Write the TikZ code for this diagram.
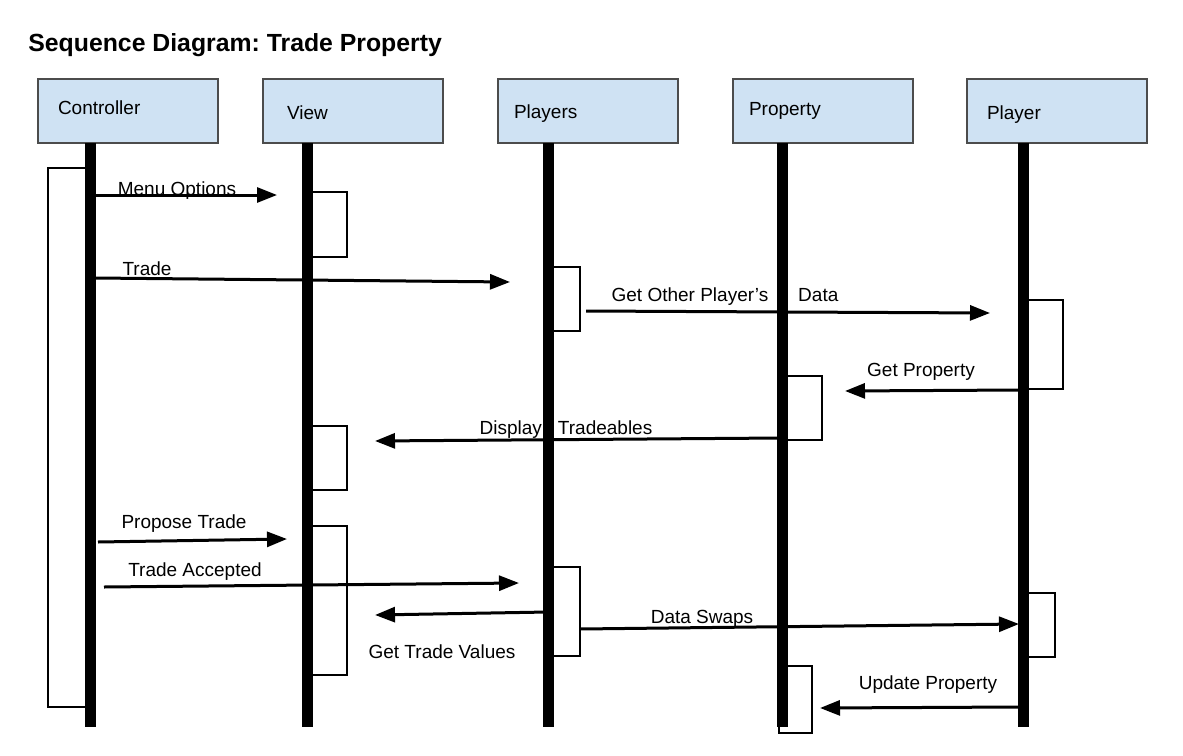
\documentclass[tikz,border=0pt]{standalone}
\usepackage{fontspec}
\setmainfont{Liberation Sans}
\frenchspacing
\usetikzlibrary{arrows.meta}
\definecolor{headblue}{HTML}{CFE2F3}
\tikzstyle{head}=[draw=black!70, fill=headblue, line width=0.6pt, minimum width=90pt, minimum height=32pt, inner xsep=10pt, text width=70pt, text height=7pt, text depth=2pt, align=left, font=\fontsize{9.5}{11}\selectfont]
\tikzstyle{life}=[line width=5.5pt]
\tikzstyle{act}=[line width=1.2pt]
\tikzstyle{msg}=[line width=1.5pt, -{Triangle[length=10pt,width=7.5pt]}]
\tikzstyle{lbl}=[font=\fontsize{9.5}{11}\selectfont, inner sep=0pt]

\begin{document}
\begin{tikzpicture}[x=0.5pt, y=-0.5pt]
  \useasboundingbox (0,0) rectangle (1183,755);

  %% Title
  \draw (28,45) node[anchor=west, inner sep=0pt, font=\fontsize{12.4}{14}\selectfont\bfseries] (title) {Sequence Diagram: Trade Property};

  %% Objects
  \draw (128,111) node[head] (ctrl) {\raisebox{1pt}{Controller}};
  \draw (353,111) node[head] (view) {\hspace*{2pt}\raisebox{-1.5pt}{View}};
  \draw (588,111) node[head] (players) {\hspace*{-2pt}\raisebox{-1pt}{Players}};
  \draw (823,111) node[head] (property) {\hspace*{-2pt}\raisebox{0.5pt}{Property}};
  \draw (1057,111) node[head] (player) {\raisebox{-1.5pt}{Player}};

  %% Labels
  \draw (177,191) node[lbl] (lMenu) {Menu Options};
  \draw (147,269) node[lbl] (lTrade) {Trade};
  \draw (725,297) node[lbl] (lOther) {Get Other Player’s\hspace{15pt}Data};
  \draw (921,372) node[lbl] (lGetProp) {Get Property};
  \draw (566,430) node[lbl] (lDisplay) {Display\hspace{8pt}Tradeables};
  \draw (184,524) node[lbl] (lPropose) {Propose Trade};
  \draw (195,572) node[lbl] (lAccept) {Trade Accepted};
  \draw (442,652) node[lbl] (lValues) {Get Trade Values};
  \draw (702,619) node[lbl] (lSwaps) {Data Swaps};
  \draw (928,685) node[lbl] (lUpdate) {Update Property};

  %% Message end points
  \coordinate (menuA) at (95,195);    \coordinate (menuB) at (277,195);
  \coordinate (tradeA) at (95,278);   \coordinate (tradeB) at (510,282);
  \coordinate (otherA) at (586,311);  \coordinate (otherB) at (990,313);
  \coordinate (getpA) at (1020,390);  \coordinate (getpB) at (845,391);
  \coordinate (dispA) at (782,438);   \coordinate (dispB) at (375,441);
  \coordinate (propA) at (98,542);    \coordinate (propB) at (287,539);
  \coordinate (accA) at (104,587);    \coordinate (accB) at (519,583);
  \coordinate (valA) at (548,612);    \coordinate (valB) at (375,615);
  \coordinate (swapA) at (580,629);   \coordinate (swapB) at (1019,624);
  \coordinate (updA) at (1020,707);   \coordinate (updB) at (820,708);

  \draw[msg] (menuA) -- (menuB);
  \draw[msg] (tradeA) -- (tradeB);
  \draw[msg] (otherA) -- (otherB);
  \draw[msg] (getpA) -- (getpB);
  \draw[msg] (dispA) -- (dispB);
  \draw[msg] (propA) -- (propB);
  \draw[msg] (accA) -- (accB);
  \draw[msg] (valA) -- (valB);
  \draw[msg] (swapA) -- (swapB);
  \draw[msg] (updA) -- (updB);

  %% Lifelines
  \coordinate (ctrlT) at (90,143);      \coordinate (ctrlB) at (90,727);
  \coordinate (viewT) at (307,143);     \coordinate (viewB) at (307,727);
  \coordinate (playersT) at (548,143);  \coordinate (playersB) at (548,727);
  \coordinate (propT) at (782,143);     \coordinate (propB2) at (782,727);
  \coordinate (playerT) at (1023,143);  \coordinate (playerB) at (1023,727);

  \draw[life] (ctrlT) -- (ctrlB);
  \draw[life] (viewT) -- (viewB);
  \draw[life] (playersT) -- (playersB);
  \draw[life] (propT) -- (propB2);
  \draw[life] (playerT) -- (playerB);

  %% Activations
  \draw[act] (90,168) -| (48,707) -- (90,707);
  \draw[act] (307,192) -| (347,257) -- (307,257);
  \draw[act] (307,426) -| (347,490) -- (307,490);
  \draw[act] (307,526) -| (347,675) -- (307,675);
  \draw[act] (548,267) -| (580,331) -- (548,331);
  \draw[act] (548,567) -| (580,656) -- (548,656);
  \draw[act] (782,376) -| (822,440) -- (782,440);
  \draw[act] (782,666) -| (812,733) -| (779,725);
  \draw[act] (1023,300) -| (1063,389) -- (1023,389);
  \draw[act] (1023,593) -| (1055,657) -- (1023,657);
\end{tikzpicture}
\end{document}
